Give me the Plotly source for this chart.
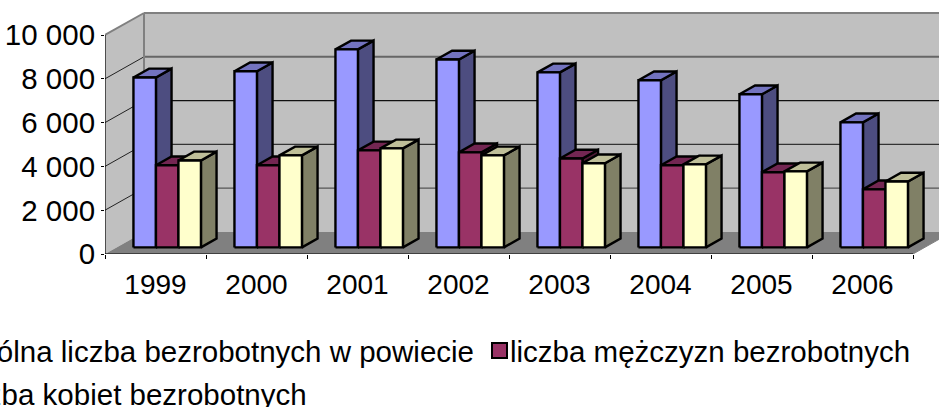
import plotly.graph_objects as go

years = ["1999", "2000", "2001", "2002", "2003", "2004", "2005", "2006"]
ogolem = [7760, 8040, 9040, 8580, 7990, 7630, 6990, 5710]
mezczyzni = [3750, 3750, 4430, 4340, 4060, 3750, 3430, 2650]
kobiety = [3970, 4200, 4520, 4200, 3840, 3790, 3470, 3010]
y_ticks = [0, 2000, 4000, 6000, 8000, 10000]
y_labels = ["0", "2 000", "4 000", "6 000", "8 000", "10 000"]
legend_names = ["ogólna liczba bezrobotnych w powiecie", "liczba mężczyzn bezrobotnych", "liczba kobiet bezrobotnych"]

W, H = 939, 407
ML, MB = 105, 153
PX_X, PX_Y = 101.0, 0.0219
DX, DY = 39 / PX_X, 22 / PX_Y
X0 = -0.5
XN = X0 + len(years)
Z0, Z1 = 0.30, 0.70
BW = 0.2228
FONT = "Liberation Sans, Arial, sans-serif"

series = [
    (ogolem, "#9999FF", "#4D4D80", "#7373BF"),
    (mezczyzni, "#993366", "#4D1933", "#732652"),
    (kobiety, "#FFFFCC", "#808066", "#BFBF99"),
]

def p(x, v, z):
    return x + z * DX, v + z * DY

fig = go.Figure()

def poly(pts, fill, line=None, lw=0):
    xs = [q[0] for q in pts] + [pts[0][0]]
    ys = [q[1] for q in pts] + [pts[0][1]]
    fig.add_trace(go.Scatter(x=xs, y=ys, mode="lines", fill="toself", fillcolor=fill,
                             line=dict(color=line or fill, width=lw), hoverinfo="skip", showlegend=False))

def seg(pts, color, lw, clip=True):
    fig.add_trace(go.Scatter(x=[q[0] for q in pts], y=[q[1] for q in pts], mode="lines",
                             line=dict(color=color, width=lw), hoverinfo="skip", showlegend=False,
                             cliponaxis=clip))

TOP = y_ticks[-1]
# walls and floor
poly([p(X0, 0, 0), p(X0, 0, 1), p(X0, TOP, 1), p(X0, TOP, 0)], "#C0C0C0")
poly([p(X0, 0, 1), p(XN, 0, 1), p(XN, TOP, 1), p(X0, TOP, 1)], "#C0C0C0")
poly([p(X0, 0, 0), p(XN, 0, 0), p(XN, 0, 1), p(X0, 0, 1)], "#808080")
# gridlines
grid_style = {2000: ("#555555", 1.3), 4000: ("#333333", 1.2), 6000: ("#111111", 1.1), 8000: ("#666666", 2), 10000: ("#808080", 2)}
for v in y_ticks[1:]:
    c, w = grid_style[v]
    seg([p(X0, v, 1), p(XN, v, 1)], c, w)
    if v < TOP:
        seg([p(X0, v, 0), p(X0, v, 1)], "#222222", 1)
seg([p(X0, TOP, 0), p(X0, TOP, 1)], "#808080", 2)
seg([p(X0, 0, 1), p(X0, TOP, 1)], "#808080", 2)
seg([p(XN, 0, 0), p(XN, 0, 1)], "#808080", 1)

# bars, back to front within each category
for i in range(len(years)):
    for s, (vals, front, side, top) in enumerate(series):
        x0 = i - 1.5 * BW + s * BW
        x1 = x0 + BW
        v = vals[i]
        poly([p(x1, 0, Z0), p(x1, 0, Z1), p(x1, v, Z1), p(x1, v, Z0)], side, "#000000", 2.4)
        poly([p(x0, v, Z0), p(x1, v, Z0), p(x1, v, Z1), p(x0, v, Z1)], top, "#000000", 2.4)
        poly([p(x0, 0, Z0), p(x1, 0, Z0), p(x1, v, Z0), p(x0, v, Z0)], front, "#000000", 2.4)

# axis lines
seg([(X0, 0), (XN, 0)], "#000000", 1.2, clip=False)
seg([(X0, 0), (X0, TOP)], "#000000", 1.2, clip=False)

def px(xp):
    return (xp - ML) / (W - ML)

def py(yp):
    return (H - MB - yp) / (H - MB)

annotations = [
    dict(text=legend_names[0], x=px(476), y=py(351), xanchor="right"),
    dict(text=legend_names[1], x=px(508), y=py(351), xanchor="left"),
    dict(text=legend_names[2], x=px(309), y=py(394), xanchor="right"),
]
for a in annotations:
    a.update(xref="paper", yref="paper", yanchor="middle", showarrow=False,
             font=dict(family=FONT, size=29.5, color="#000000"))

fig.update_layout(
    width=W, height=H, autosize=False,
    margin=dict(l=ML, r=0, t=0, b=MB, autoexpand=False),
    paper_bgcolor="#FFFFFF", plot_bgcolor="rgba(0,0,0,0)",
    showlegend=False,
    xaxis=dict(range=[X0, X0 + (W - ML) / PX_X], showgrid=False, zeroline=False, showline=False,
               tickmode="array", tickvals=list(range(len(years))), ticktext=years,
               ticks="outside", ticklen=5, tickcolor="rgba(0,0,0,0)",
               tickfont=dict(family=FONT, size=28, color="#000000"),
               minor=dict(ticks="outside", ticklen=4, tickcolor="#000000", tickwidth=1,
                          tickmode="array", tickvals=[X0 + k for k in range(len(years) + 1)], showgrid=False)),
    yaxis=dict(range=[0, (H - MB) / PX_Y], showgrid=False, zeroline=False, showline=False,
               tickmode="array", tickvals=y_ticks, ticktext=y_labels,
               ticks="outside", ticklen=3, tickcolor="#000000", tickwidth=1,
               tickfont=dict(family=FONT, size=29.5, color="#000000")),
    annotations=annotations,
    shapes=[dict(type="rect", xref="paper", yref="paper", x0=px(492), x1=px(507), y0=py(358), y1=py(343),
                 fillcolor="#993366", line=dict(color="#000000", width=2))],
)
fig.write_html("out.html", config=dict(displayModeBar=False),
               post_script="document.body.style.margin='0';document.documentElement.style.overflow='hidden';")
